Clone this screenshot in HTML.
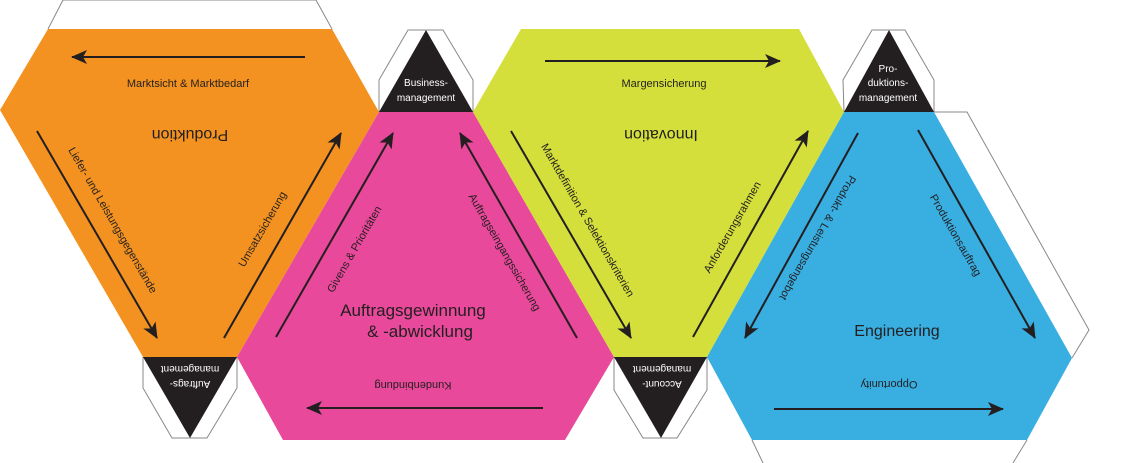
<!DOCTYPE html>
<html><head><meta charset="utf-8"><style>
html,body{margin:0;padding:0;background:#fff}
svg{display:block}
text{font-family:"Liberation Sans","DejaVu Sans",sans-serif;fill:#231f20}
</style></head><body>
<svg width="1140" height="463" viewBox="0 0 1140 463" xmlns="http://www.w3.org/2000/svg">
<defs>
<marker id="ah" viewBox="0 0 16 14" refX="15" refY="7" markerWidth="16" markerHeight="14" markerUnits="userSpaceOnUse" orient="auto">
<path d="M0,0 L16,7 L0,14 L4,7 Z" fill="#231f20"/>
</marker>
</defs>
<g fill="none" stroke="#888" stroke-width="1">
<polyline points="48,29 63,0 316,0 332,29"/>
<polyline points="143,357 143,388 172,438 207,438 237,388 237,357"/>
<polyline points="379,112 379,80 408,30 443,30 473,80 473,112"/>
<polyline points="614,357 614,390 643,438 677,438 707,390 707,357"/>
<polyline points="844,112 843,80 872,30 905,30 934,80 934,112"/>
<polyline points="934,112 967,112 1089,330 1072,358"/>
<polyline points="752,440 763,463"/>
<polyline points="1027,440 1013,463"/>
</g>
<polygon points="48,29 332,29 379,112 237,357 143,357 0,110" fill="#f39220"/>
<polygon points="379,112 473,112 614,357 565,440 283,440 237,357" fill="#e8499a"/>
<polygon points="521,29 799,29 844,112 707,357 614,357 473,112" fill="#d4df3c"/>
<polygon points="844,112 934,112 1072,358 1027,440 752,440 707,357" fill="#39aee1"/>
<g fill="#231f20">
<polygon points="143,357 237,357 190,438"/>
<polygon points="379,112 473,112 426,30"/>
<polygon points="614,357 707,357 661,438"/>
<polygon points="844,112 934,112 889,30"/>
</g>
<g stroke="#231f20" stroke-width="2" marker-end="url(#ah)">
<line x1="305" y1="57" x2="72" y2="57"/>
<line x1="37" y1="131" x2="157" y2="338"/>
<line x1="224" y1="338" x2="341" y2="133"/>
<line x1="276" y1="337" x2="393" y2="133"/>
<line x1="577" y1="338" x2="460" y2="133"/>
<line x1="543" y1="408" x2="307" y2="408"/>
<line x1="545" y1="61" x2="780" y2="61"/>
<line x1="511" y1="131" x2="631" y2="338"/>
<line x1="693" y1="337" x2="808" y2="131"/>
<line x1="858" y1="133" x2="745" y2="338"/>
<line x1="918" y1="130" x2="1035" y2="338"/>
<line x1="774" y1="409" x2="1003" y2="409"/>
</g>
<g font-size="11" text-anchor="middle">
<text x="188" y="87">Marktsicht &amp; Marktbedarf</text>
<text x="664" y="87">Margensicherung</text>
<text transform="translate(113,220) rotate(60)" y="4">Liefer- und Leistungsgegenstände</text>
<text transform="translate(262,229) rotate(-60)" y="4">Umsatzsicherung</text>
<text transform="translate(354,249) rotate(-60)" y="4">Givens &amp; Prioritäten</text>
<text transform="translate(505,252) rotate(60)" y="4">Auftragseingangssicherung</text>
<text transform="translate(588,220) rotate(60)" y="4">Marktdefinition &amp; Selektionskriterien</text>
<text transform="translate(732,227) rotate(-60)" y="4">Anforderungsrahmen</text>
<text transform="translate(818,238) rotate(120)" y="4">Produkt- &amp; Leistungsangebot</text>
<text transform="translate(956,235) rotate(60)" y="4">Produktionsauftrag</text>
<text transform="translate(413,386) rotate(180)" y="4">Kundenbindung</text>
<text transform="translate(889,385) rotate(180)" y="4">Opportunity</text>
</g>
<g font-size="16" text-anchor="middle">
<text transform="translate(190,136) rotate(180)" y="6">Produktion</text>
<text transform="translate(661,136) rotate(180)" y="6">Innovation</text>
<text x="897" y="336">Engineering</text>
<text x="413" y="316" font-size="17">Auftragsgewinnung</text>
<text x="420" y="337" font-size="17">&amp; -abwicklung</text>
</g>
<g font-size="10" text-anchor="middle" style="fill:#fff">
<text x="426" y="86" style="fill:#fff">Business-</text>
<text x="426" y="101" style="fill:#fff">management</text>
<text x="888" y="72" style="fill:#fff">Pro-</text>
<text x="888" y="86" style="fill:#fff">duktions-</text>
<text x="888" y="101" style="fill:#fff">management</text>
<g transform="translate(190,377) rotate(180)">
<text x="0" y="-4" style="fill:#fff">Auftrags-</text>
<text x="0" y="11" style="fill:#fff">management</text>
</g>
<g transform="translate(662,377) rotate(180)">
<text x="0" y="-4" style="fill:#fff">Account-</text>
<text x="0" y="11" style="fill:#fff">management</text>
</g>
</g>
</svg>
</body></html>
